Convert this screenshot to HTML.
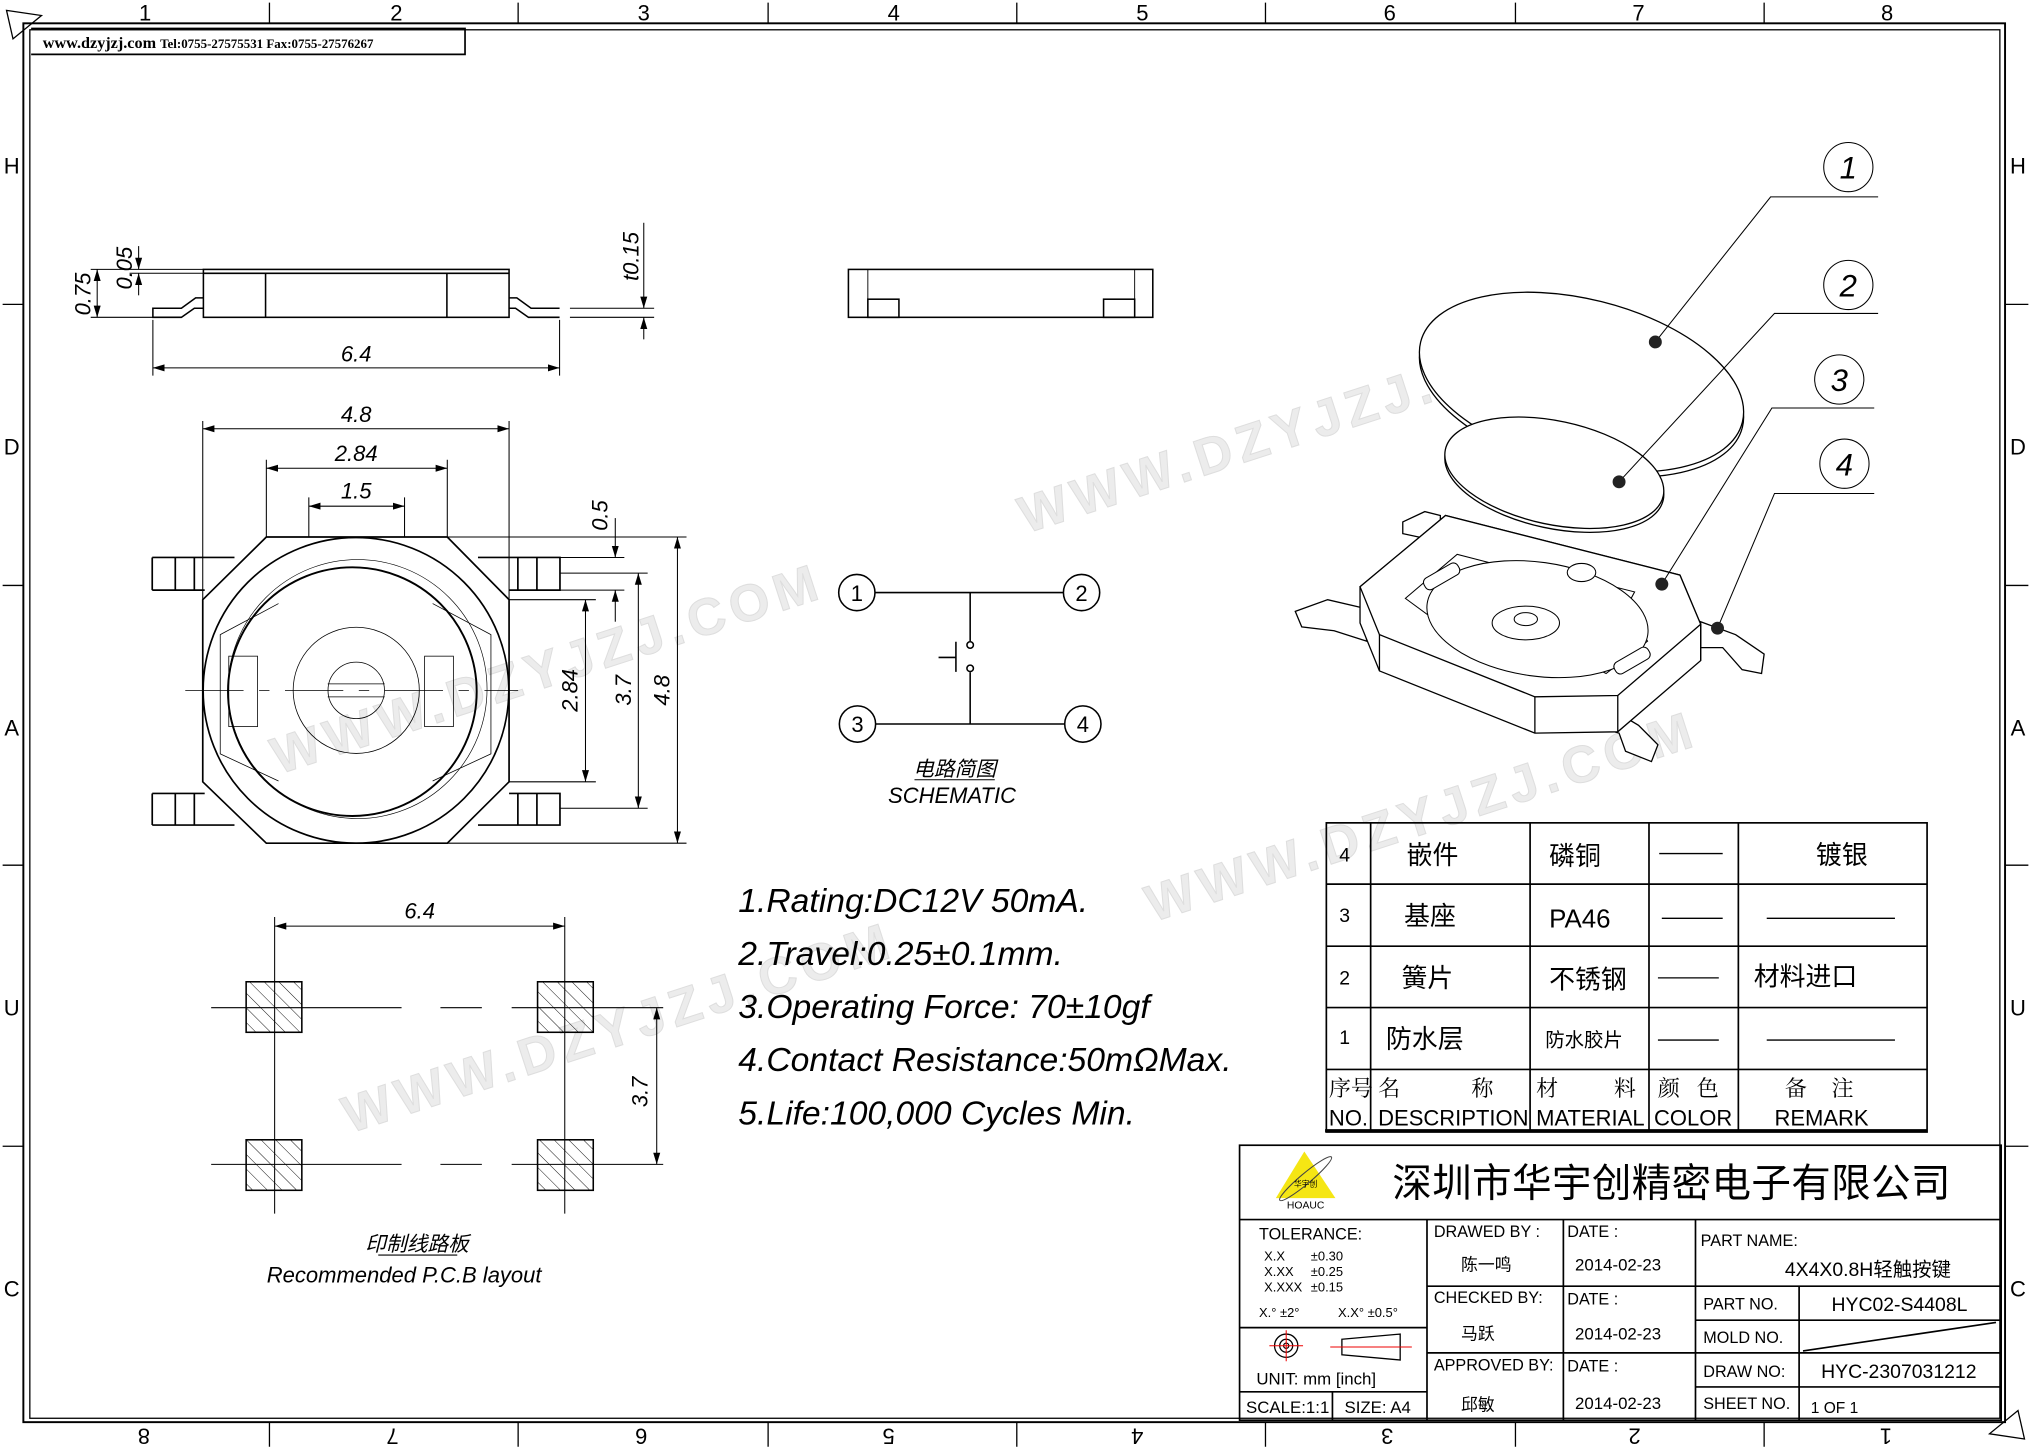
<!DOCTYPE html>
<html><head><meta charset="utf-8"><style>
html,body{margin:0;padding:0;background:#fff;}
svg{display:block;}
text{font-family:"Liberation Sans","Noto Sans CJK SC",sans-serif;fill:#000;}
.s{font-family:"Liberation Serif","Noto Serif CJK SC",serif;}
.i{font-style:italic;}
text.wm{fill:#ececec;stroke:#dedede;stroke-width:0.8;font-weight:bold;font-size:40px;letter-spacing:5px;}
</style></head><body>
<svg width="2031" height="1450" viewBox="0 0 1568 1119.5" xmlns="http://www.w3.org/2000/svg">
<defs>
<marker id="a" viewBox="0 0 10 10" refX="10" refY="5" markerWidth="9" markerHeight="9" markerUnits="userSpaceOnUse" orient="auto-start-reverse"><path d="M0,2 L10,5 L0,8 z" fill="#000"/></marker>
<pattern id="h" patternUnits="userSpaceOnUse" width="8" height="8" patternTransform="rotate(-45)"><line x1="0" y1="0" x2="0" y2="8" stroke="#000" stroke-width="0.7"/></pattern>
</defs>
<rect width="1568" height="1119.5" fill="#fff"/>
<!-- watermarks -->
<text class="wm" x="792" y="412" transform="rotate(-18 792 412)">WWW.DZYJZJ.COM</text>
<text class="wm" x="215" y="598" transform="rotate(-18 215 598)">WWW.DZYJZJ.COM</text>
<text class="wm" x="890" y="712" transform="rotate(-18 890 712)">WWW.DZYJZJ.COM</text>
<text class="wm" x="270" y="875" transform="rotate(-18 270 875)">WWW.DZYJZJ.COM</text>
<!-- frame -->
<g fill="none" stroke="#000">
<rect x="18" y="18" width="1530" height="1080" stroke-width="1.5"/>
<rect x="23" y="23" width="1521" height="1072" stroke-width="1"/>
<path d="M24,22 H359 V42 H24" stroke-width="1.3"/>
<path d="M208,2 V18 M400,2 V18 M593,2 V18 M785,2 V18 M977,2 V18 M1170,2 V18 M1362,2 V18 M208,1098 V1117 M400,1098 V1117 M593,1098 V1117 M785,1098 V1117 M977,1098 V1117 M1170,1098 V1117 M1362,1098 V1117 M2,235 H18 M2,452 H18 M2,668 H18 M2,885 H18 M1548,235 H1566 M1548,452 H1566 M1548,668 H1566 M1548,885 H1566" stroke-width="1"/>
<path d="M5,8 L32,12 L10,30 Z M1563,1111 L1536,1107 L1558,1089 Z" stroke-width="1"/>
</g>
<g font-size="17" text-anchor="middle">
<text x="112" y="16">1</text><text x="306" y="16">2</text><text x="497" y="16">3</text><text x="690" y="16">4</text><text x="882" y="16">5</text><text x="1073" y="16">6</text><text x="1265" y="16">7</text><text x="1457" y="16">8</text>
<g transform="rotate(180 784 1109)">
<text x="112" y="1115">1</text><text x="306" y="1115">2</text><text x="497" y="1115">3</text><text x="690" y="1115">4</text><text x="882" y="1115">5</text><text x="1073" y="1115">6</text><text x="1265" y="1115">7</text><text x="1457" y="1115">8</text></g>
<text x="9" y="134">H</text><text x="9" y="351">D</text><text x="9" y="568">A</text><text x="9" y="784">U</text><text x="9" y="1001">C</text>
<text x="1558" y="134">H</text><text x="1558" y="351">D</text><text x="1558" y="568">A</text><text x="1558" y="784">U</text><text x="1558" y="1001">C</text>
</g>
<text class="s" x="33" y="37" font-size="12.5" font-weight="bold">www.dzyjzj.com <tspan font-size="10">Tel:0755-27575531  Fax:0755-27576267</tspan></text>

<!-- side view 1 -->
<g fill="none" stroke="#000" stroke-width="1.2">
<rect x="157" y="208" width="236" height="37"/>
<line x1="157" y1="211" x2="393" y2="211"/>
<line x1="205" y1="211" x2="205" y2="245"/><line x1="345" y1="211" x2="345" y2="245"/>
<path d="M157,230 H151 L140,238 H118 V245 H140 L150,238 H157"/>
<path d="M393,230 H399 L410,238 H432 M393,238 H398 L408,245 H432"/>
</g>
<g stroke="#000" stroke-width="0.8" fill="none">
<path d="M70,208 H157 M70,245 H118 M100,211 H157 M118,247 V290 M432,247 V290 M440,238 H505 M440,245 H505"/>
<line x1="75" y1="208" x2="75" y2="245" marker-start="url(#a)" marker-end="url(#a)"/>
<line x1="107" y1="190" x2="107" y2="208" marker-end="url(#a)"/><line x1="107" y1="228" x2="107" y2="211" marker-end="url(#a)"/>
<line x1="118" y1="284" x2="432" y2="284" marker-start="url(#a)" marker-end="url(#a)"/>
<line x1="497" y1="172" x2="497" y2="238" marker-end="url(#a)"/><line x1="497" y1="262" x2="497" y2="245" marker-end="url(#a)"/>
</g>
<g font-size="17" class="i">
<text x="70" y="227" text-anchor="middle" transform="rotate(-90 70 227)">0.75</text>
<text x="102" y="207" text-anchor="middle" transform="rotate(-90 102 207)">0.05</text>
<text x="275" y="279" text-anchor="middle">6.4</text>
<text x="493" y="198" text-anchor="middle" transform="rotate(-90 493 198)">t0.15</text>
</g>
<!-- side view 2 -->
<g fill="none" stroke="#000" stroke-width="1.2">
<rect x="655" y="208" width="235" height="37"/>
<rect x="670" y="231" width="24" height="14"/><rect x="852" y="231" width="24" height="14"/>
<path d="M670,208 V231 M876,208 V231" stroke-width="0.7"/>
</g>

<!-- top view -->
<g fill="none" stroke="#000" stroke-width="1.3">
<polygon points="205.6,414.6 312.3,414.6 345.3,414.6 393,463 393,603.6 345.3,651 205.6,651 156.5,603.6 156.5,463"/>
<circle cx="274.8" cy="533" r="118"/>
<circle cx="272" cy="534" r="96" stroke-width="1.5"/>
<circle cx="276" cy="532" r="100" stroke-width="0.5"/>
<path d="M117.5,430.4 H181 M117.5,455.6 H158 M117.5,430.4 V455.6 M135.3,430.4 V455.6 M150,430.4 V455.6" />
<path d="M117.5,612.6 V637 M117.5,612.6 H158 M117.5,637 H181 M135.3,612.6 V637 M150,612.6 V637"/>
<path d="M369,430.4 H432.3 V455.6 H393 M399.8,430.4 V455.6 M414.5,430.4 V455.6"/>
<path d="M393,612.6 H432.3 V637 H369 M399.8,612.6 V637 M414.5,612.6 V637"/>
</g>
<g fill="none" stroke="#000" stroke-width="0.6">
<circle cx="275" cy="533" r="48.7"/>
<circle cx="275" cy="533" r="21.8"/>
<path d="M253,528 H297 M253,538 H297"/>
<rect x="176.6" y="506.6" width="22.2" height="54.4"/><rect x="327.8" y="506.6" width="22.2" height="54.4"/>
<path d="M215,466 L170,490 V582 L215,603 M334,466 L379,490 V582 L334,603"/>
<path d="M143,533 H400" stroke-dasharray="45,12,8,12"/>
</g>
<g stroke="#000" stroke-width="0.8" fill="none">
<path d="M156.5,463 V325 M393,463 V325 M205.6,414.6 V355 M345.3,414.6 V355 M238.4,414.6 V384 M312.3,414.6 V384"/>
<path d="M345.3,414.6 H530 M432.3,430.4 H482 M432.3,455.6 H482 M432.3,442.5 H500 M432.3,624 H500 M393,463 H460 M393,603.6 H460 M345.3,651 H530"/>
<line x1="156.5" y1="331" x2="393" y2="331" marker-start="url(#a)" marker-end="url(#a)"/>
<line x1="205.6" y1="361.5" x2="345.3" y2="361.5" marker-start="url(#a)" marker-end="url(#a)"/>
<line x1="238.4" y1="390.8" x2="312.3" y2="390.8" marker-start="url(#a)" marker-end="url(#a)"/>
<line x1="475" y1="400" x2="475" y2="430.4" marker-end="url(#a)"/><line x1="475" y1="480" x2="475" y2="455.6" marker-end="url(#a)"/>
<line x1="452" y1="463" x2="452" y2="603.6" marker-start="url(#a)" marker-end="url(#a)"/>
<line x1="492.8" y1="442.5" x2="492.8" y2="624" marker-start="url(#a)" marker-end="url(#a)"/>
<line x1="523" y1="414.6" x2="523" y2="651" marker-start="url(#a)" marker-end="url(#a)"/>
</g>
<g font-size="17" class="i" text-anchor="middle">
<text x="275" y="326">4.8</text><text x="275" y="356">2.84</text><text x="275" y="385">1.5</text>
<text x="469" y="398" transform="rotate(-90 469 398)">0.5</text>
<text x="446" y="533" transform="rotate(-90 446 533)">2.84</text>
<text x="487" y="533" transform="rotate(-90 487 533)">3.7</text>
<text x="517" y="533" transform="rotate(-90 517 533)">4.8</text>
</g>

<!-- schematic -->
<g fill="none" stroke="#000" stroke-width="1.2">
<circle cx="661.5" cy="457.5" r="14"/><circle cx="835" cy="457.5" r="14"/>
<circle cx="662" cy="559" r="14"/><circle cx="836" cy="559" r="14"/>
<path d="M675.5,457.5 H821 M676,559 H822 M749,457.5 V495 M749,519 V559 M738,495.5 V518.7 M724.6,507.6 H738"/>
<circle cx="749" cy="498" r="2.5"/><circle cx="749" cy="516" r="2.5"/>
<path d="M706,602 H768" stroke-width="0.8"/>
</g>
<g font-size="17" text-anchor="middle">
<text x="661.5" y="464">1</text><text x="835" y="464">2</text><text x="662" y="565">3</text><text x="836" y="565">4</text>
<text x="737" y="599" class="i" font-size="16">电路简图</text>
<text x="735" y="620" class="i">SCHEMATIC</text>
</g>

<!-- specs -->
<g font-size="26" class="i">
<text x="570" y="704">1.Rating:DC12V 50mA.</text>
<text x="570" y="745">2.Travel:0.25±0.1mm.</text>
<text x="570" y="786">3.Operating Force: 70±10gf</text>
<text x="570" y="827">4.Contact Resistance:50mΩMax.</text>
<text x="570" y="868">5.Life:100,000 Cycles Min.</text>
</g>

<!-- PCB -->
<g stroke="#000" stroke-width="1.2">
<rect x="190" y="758" width="43" height="39" fill="url(#h)"/><rect x="415" y="758" width="43" height="39" fill="url(#h)"/>
<rect x="190" y="880" width="43" height="39" fill="url(#h)"/><rect x="415" y="880" width="43" height="39" fill="url(#h)"/>
</g>
<g stroke="#000" stroke-width="0.8" fill="none">
<path d="M163,778 H310 M340,778 H372 M395,778 H512 M163,899 H310 M340,899 H372 M395,899 H512 M212,708 V937 M436,708 V937"/>
<line x1="212" y1="715" x2="436" y2="715" marker-start="url(#a)" marker-end="url(#a)"/>
<line x1="507" y1="778" x2="507" y2="899" marker-start="url(#a)" marker-end="url(#a)"/>
<path d="M292,969 H353"/>
</g>
<g font-size="17" class="i" text-anchor="middle">
<text x="324" y="709">6.4</text>
<text x="500" y="843" transform="rotate(-90 500 843)">3.7</text>
<text x="322" y="966" font-size="16">印制线路板</text>
<text x="312" y="990">Recommended P.C.B layout</text>
</g>

<!-- 3D exploded -->
<g fill="#fff" stroke="#000" stroke-width="1">
<ellipse cx="1221" cy="299" rx="128" ry="64" transform="rotate(14 1221 299)"/>
<ellipse cx="1221" cy="295" rx="128" ry="64" transform="rotate(14 1221 295)"/>
<ellipse cx="1200" cy="368" rx="86" ry="40" transform="rotate(12 1200 368)"/>
<ellipse cx="1200" cy="365" rx="86" ry="40" transform="rotate(12 1200 365)"/>
<polygon points="1083,403 1100,395 1112,398 1112,412 1097,415 1083,412"/>
<polygon points="1000,472 1025,463 1055,470 1055,495 1030,487 1005,484"/>
<polygon points="1313,480 1340,490 1362,505 1360,520 1345,517 1330,500 1313,500"/>
<polygon points="1205,553 1240,545 1265,560 1280,575 1275,588 1255,580 1250,566"/>
<polygon points="1050,453 1116,398 1297,444 1313,482 1313,510 1249,565 1185,566 1065,518 1050,481"/>
<polygon points="1050,453 1116,398 1297,444 1313,482 1249,537 1185,538 1065,490"/>
<path d="M1065,490 V518 M1185,538 V566 M1249,537 V565 M1313,482 V510" fill="none"/>
<polygon points="1085,462 1125,428 1160,437 1163,455 1215,463 1218,446 1262,457 1255,470 1272,495 1240,520 1200,500 1170,510 1130,495" stroke-width="0.8"/>
<ellipse cx="1187" cy="478" rx="86" ry="44" transform="rotate(8 1187 478)" stroke-width="0.8"/>
<ellipse cx="1178" cy="481" rx="26" ry="13" stroke-width="0.8"/>
<ellipse cx="1178" cy="478" rx="9" ry="5" stroke-width="0.8"/>
<ellipse cx="1221" cy="442" rx="11" ry="7" stroke-width="0.8"/>
<rect x="1098" y="440" width="30" height="10" rx="4" transform="rotate(-30 1113 445)" stroke-width="0.8"/>
<rect x="1245" y="505" width="30" height="10" rx="4" transform="rotate(-30 1260 510)" stroke-width="0.8"/>
</g>
<g stroke="#000" stroke-width="0.8" fill="none">
<path d="M1450,152 H1367 L1278,264 M1450,242 H1370 L1250,372 M1447,315 H1368 L1283,451 M1447,381 H1370 L1326,485"/>
<circle cx="1427" cy="129" r="19"/><circle cx="1427" cy="220" r="19"/><circle cx="1420" cy="293" r="19"/><circle cx="1424" cy="358" r="19"/>
</g>
<g fill="#222"><circle cx="1278" cy="264" r="5"/><circle cx="1250" cy="372" r="5"/><circle cx="1283" cy="451" r="5"/><circle cx="1326" cy="485" r="5"/></g>
<g font-size="24" class="i" text-anchor="middle">
<text x="1427" y="138">1</text><text x="1427" y="229">2</text><text x="1420" y="302">3</text><text x="1424" y="367">4</text>
</g>

<!-- BOM table -->
<g fill="none" stroke="#000" stroke-width="1.3">
<rect x="1024" y="635.3" width="463.8" height="238.7"/>
<path d="M1024,682.6 H1487.8 M1024,730.5 H1487.8 M1024,777.9 H1487.8 M1024,825.7 H1487.8 M1058.2,635.3 V874 M1181.3,635.3 V874 M1273.1,635.3 V874 M1342.1,635.3 V874"/>
<path d="M1023,873 H1488" stroke-width="2.5"/>
<path d="M1281,659 H1330 M1283,709 H1330 M1280,755 H1327 M1280,803 H1327 M1364,709 H1463 M1364,803 H1463" stroke-width="1"/>
</g>
<g class="s" font-size="20">
<text x="1034" y="665" font-size="15">4</text><text x="1034" y="712" font-size="15">3</text><text x="1034" y="760" font-size="15">2</text><text x="1034" y="806" font-size="15">1</text>
<text x="1086" y="667">嵌件</text><text x="1084" y="714">基座</text><text x="1082" y="762">簧片</text><text x="1070" y="809">防水层</text>
<text x="1196" y="668">磷铜</text><text x="1196" y="716">PA46</text><text x="1196" y="763">不锈钢</text><text x="1193" y="808" font-size="15">防水胶片</text>
<text x="1402" y="667">镀银</text><text x="1354" y="761">材料进口</text>
</g>
<g font-size="17">
<text x="1026" y="846" class="s">序号</text><text x="1026" y="869">NO.</text>
<text x="1064" y="846" class="s">名</text><text x="1136" y="846" class="s">称</text><text x="1064" y="869">DESCRIPTION</text>
<text x="1186" y="846" class="s">材</text><text x="1246" y="846" class="s">料</text><text x="1186" y="869">MATERIAL</text>
<text x="1280" y="846" class="s">颜</text><text x="1310" y="846" class="s">色</text><text x="1277" y="869">COLOR</text>
<text x="1378" y="846" class="s">备</text><text x="1414" y="846" class="s">注</text><text x="1370" y="869">REMARK</text>
</g>

<!-- title block -->
<g fill="none" stroke="#000" stroke-width="1.3">
<rect x="957" y="884.2" width="588" height="212.3"/>
<path d="M957,941.6 H1545 M1101.7,941.6 V1096.5 M1207,941.6 V1096.5 M1309,941.6 V1096.5 M1389,993 V1096.5 M1101.7,993 H1309 M1101.7,1044.5 H1309 M1309,993 H1545 M1309,1019.3 H1545 M1309,1044.5 H1545 M1309,1070.8 H1545 M957,1025 H1101.7 M957,1074.6 H1101.7 M1028.7,1074.6 V1096.5"/>
<path d="M1392,1043 L1541,1021" stroke-width="1.3"/>
</g>
<polygon points="1007,889 985,925 1031,925" fill="#f5e614"/>
<ellipse cx="1008" cy="910" rx="26" ry="4" fill="none" stroke="#444" stroke-width="0.8" transform="rotate(-40 1008 910)"/>
<text x="1008" y="916" font-size="6" text-anchor="middle">华宇创</text>
<text x="1008" y="933" font-size="8" text-anchor="middle">HOAUC</text>
<text x="1075" y="924" font-size="30.5" style="letter-spacing:0.3px">深圳市华宇创精密电子有限公司</text>
<g font-size="12.5">
<text x="972" y="957">TOLERANCE:</text>
<text x="976" y="973" font-size="10">X.X</text><text x="1012" y="973" font-size="10">±0.30</text>
<text x="976" y="985" font-size="10">X.XX</text><text x="1012" y="985" font-size="10">±0.25</text>
<text x="976" y="997" font-size="10">X.XXX</text><text x="1012" y="997" font-size="10">±0.15</text>
<text x="972" y="1017" font-size="10">X.° ±2°</text><text x="1033" y="1017" font-size="10">X.X° ±0.5°</text>
<text x="970" y="1069" font-size="13">UNIT:  mm  [inch]</text>
<text x="962" y="1091" font-size="13">SCALE:1:1</text><text x="1038" y="1091" font-size="13">SIZE:  A4</text>
<text x="1107" y="955">DRAWED  BY :</text><text x="1210" y="955">DATE :</text>
<text x="1107" y="1006">CHECKED  BY:</text><text x="1210" y="1007">DATE :</text>
<text x="1107" y="1058">APPROVED  BY:</text><text x="1210" y="1059">DATE :</text>
<text x="1313" y="962">PART  NAME:</text>
<text x="1315" y="1011">PART  NO.</text><text x="1315" y="1037">MOLD  NO.</text>
<text x="1315" y="1063">DRAW  NO:</text><text x="1315" y="1088">SHEET  NO.</text>
</g>
<g class="s" font-size="13">
<text x="1128" y="981">陈一鸣</text><text x="1216" y="981">2014-02-23</text>
<text x="1128" y="1034">马跃</text><text x="1216" y="1034">2014-02-23</text>
<text x="1128" y="1089">邱敏</text><text x="1216" y="1088">2014-02-23</text>
<text x="1378" y="985" font-size="15">4X4X0.8H轻触按键</text>
<text x="1414" y="1012" font-size="15">HYC02-S4408L</text>
<text x="1406" y="1064" font-size="15">HYC-2307031212</text>
<text x="1398" y="1091" font-size="12">1  OF  1</text>
</g>
<g fill="none" stroke="#000" stroke-width="1">
<circle cx="993" cy="1039" r="9"/><circle cx="993" cy="1039" r="5"/><circle cx="993" cy="1039" r="2"/>
<polygon points="1036,1034 1081,1030 1081,1050 1036,1046"/>
</g>
<path d="M980,1039 H1006 M993,1027 V1051 M1027,1040 H1090" stroke="#e00" stroke-width="0.8" fill="none"/>
</svg>
</body></html>
